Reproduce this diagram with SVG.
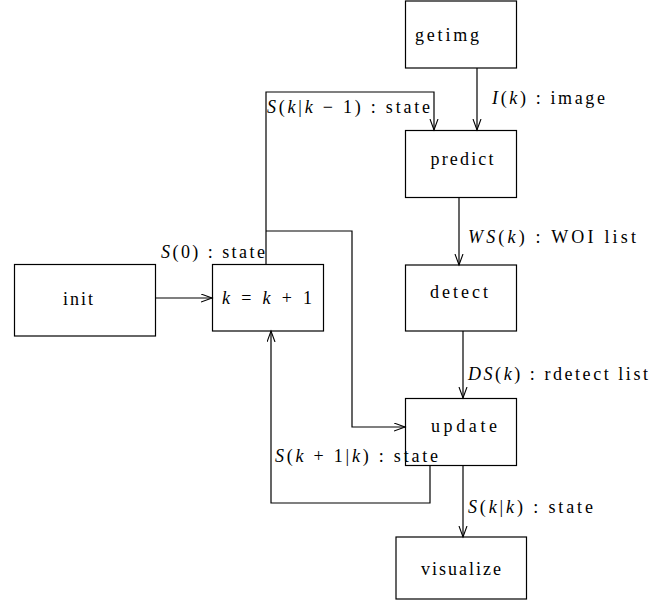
<svg xmlns="http://www.w3.org/2000/svg" width="666" height="603" viewBox="0 0 666 603">
<style>
.box{fill:#fff;stroke:#000;stroke-width:1.2}
.ln{fill:none;stroke:#000;stroke-width:1.2}
text{font-size:18px;fill:#000}
.m{font-style:italic}
.c{text-anchor:middle}
</style>
<defs>
<marker id="arr" markerUnits="userSpaceOnUse" markerWidth="14" markerHeight="10" refX="11" refY="4.5" orient="auto">
<path d="M0,0.5 L11,4.5 L0,8.5" fill="none" stroke="#000" stroke-width="1.1"/>
</marker>
</defs>
<g id="getimg" font-family="'Liberation Serif', 'DejaVu Serif', 'Times New Roman', serif"><rect class="box" x="405.5" y="1" width="111" height="67"/><text x="415" y="41" textLength="64" lengthAdjust="spacing">getimg</text></g>
<g id="predict" font-family="'Liberation Serif', 'DejaVu Serif', 'Times New Roman', serif"><rect class="box" x="405.5" y="130.5" width="111" height="67"/><text class="c" x="462" y="165" textLength="63" lengthAdjust="spacing">predict</text></g>
<g id="detect" font-family="'Liberation Serif', 'DejaVu Serif', 'Times New Roman', serif"><rect class="box" x="405.5" y="265" width="111" height="66"/><text class="c" x="459" y="298" textLength="58" lengthAdjust="spacing">detect</text></g>
<g id="init" font-family="'Liberation Serif', 'DejaVu Serif', 'Times New Roman', serif"><rect class="box" x="14.5" y="264.5" width="141" height="71.5"/><text class="c" x="78" y="305" textLength="30" lengthAdjust="spacing">init</text></g>
<g id="incr" font-family="'Liberation Serif', 'DejaVu Serif', 'Times New Roman', serif"><rect class="box" x="212.5" y="264.5" width="111" height="66.5"/><text class="c" x="267" y="304" textLength="90" lengthAdjust="spacing"><tspan class="m">k</tspan> = <tspan class="m">k</tspan> + 1</text></g>
<g id="update" font-family="'Liberation Serif', 'DejaVu Serif', 'Times New Roman', serif"><rect class="box" x="405.5" y="398.5" width="111" height="67"/><text class="c" x="464" y="432" textLength="66" lengthAdjust="spacing">update</text></g>
<g id="visualize" font-family="'Liberation Serif', 'DejaVu Serif', 'Times New Roman', serif"><rect class="box" x="396" y="537" width="130.5" height="62"/><text class="c" x="461" y="575" textLength="80" lengthAdjust="spacing">visualize</text></g>
<g id="connectors" font-family="'Liberation Serif', 'DejaVu Serif', 'Times New Roman', serif">
<path class="ln" d="M477,68 V130" marker-end="url(#arr)"/>
<path class="ln" d="M266,264 V92 H434 V130" marker-end="url(#arr)"/>
<path class="ln" d="M266,231 H352 V427 H405" marker-end="url(#arr)"/>
<path class="ln" d="M459,197 V265" marker-end="url(#arr)"/>
<path class="ln" d="M463,331 V398" marker-end="url(#arr)"/>
<path class="ln" d="M463,465 V537" marker-end="url(#arr)"/>
<path class="ln" d="M430,465 V503 H271 V331" marker-end="url(#arr)"/>
<path class="ln" d="M155,298 H212" marker-end="url(#arr)"/>
<text x="492" y="104" textLength="113" lengthAdjust="spacing"><tspan class="m">I</tspan>(<tspan class="m">k</tspan>) : image</text>
<text x="267" y="113" textLength="163" lengthAdjust="spacing"><tspan class="m">S</tspan>(<tspan class="m">k</tspan>|<tspan class="m">k</tspan> − 1) : state</text>
<text x="468" y="243" textLength="168" lengthAdjust="spacing"><tspan class="m">WS</tspan>(<tspan class="m">k</tspan>) : WOI list</text>
<text x="161" y="258" textLength="104" lengthAdjust="spacing"><tspan class="m">S</tspan>(0) : state</text>
<text x="468" y="380" textLength="180" lengthAdjust="spacing"><tspan class="m">DS</tspan>(<tspan class="m">k</tspan>) : rdetect list</text>
<text x="275" y="462" textLength="163" lengthAdjust="spacing"><tspan class="m">S</tspan>(<tspan class="m">k</tspan> + 1|<tspan class="m">k</tspan>) : state</text>
<text x="468" y="513" textLength="125" lengthAdjust="spacing"><tspan class="m">S</tspan>(<tspan class="m">k</tspan>|<tspan class="m">k</tspan>) : state</text>
</g>
</svg>
